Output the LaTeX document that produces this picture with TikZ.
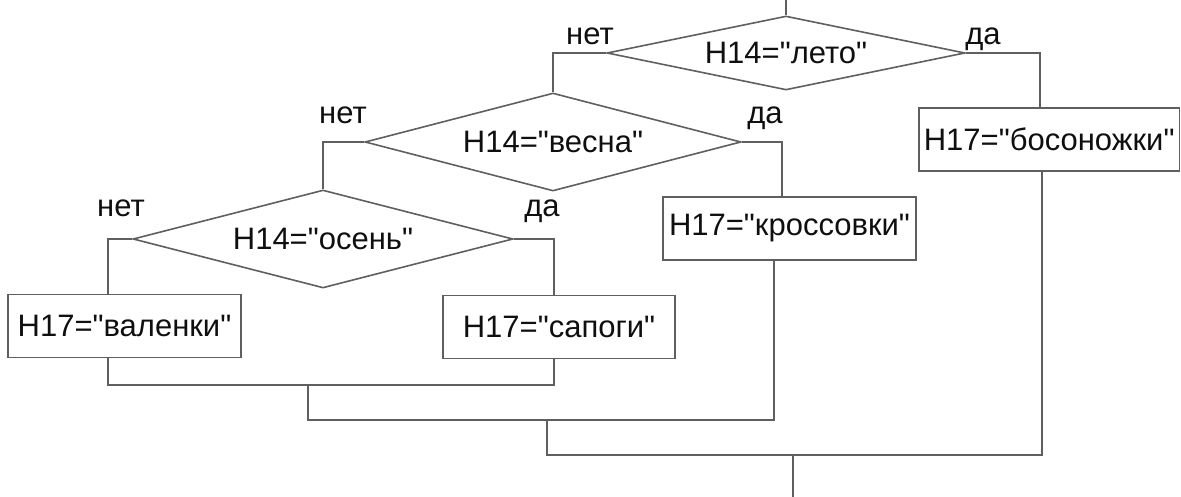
\documentclass[tikz,border=0pt]{standalone}
\usepackage{fontspec}
\setmainfont[Ligatures=TeXOff]{Liberation Sans}
\usetikzlibrary{shapes.geometric}
\definecolor{linec}{RGB}{95,95,95}
\definecolor{textc}{RGB}{15,15,15}
\begin{document}
\begin{tikzpicture}[x=1bp,y=-1bp,
  every node/.style={text=textc,font=\fontsize{31bp}{37bp}\selectfont},
  cond/.style={draw=linec,line width=1.6bp,diamond,inner sep=0pt},
  act/.style={draw=linec,line width=1.6bp,rectangle,inner ysep=0pt,inner xsep=5bp,minimum height=63bp},
  conn/.style={draw=linec,line width=1.6bp},
  lbl/.style={anchor=base}]
\useasboundingbox (0,0) rectangle (1181,497);
% decisions
\node[cond,shape aspect=4.84,minimum width=358bp,minimum height=74bp] (d1) at (786,53) {H14="лето"};
\node[cond,shape aspect=3.84,minimum width=376bp,minimum height=98bp] (d2) at (553,142) {H14="весна"};
\node[cond,shape aspect=3.88,minimum width=380bp,minimum height=98bp] (d3) at (323,239) {H14="осень"};
% actions
\node[act,minimum width=233bp] (b1) at (124.5,326) {H17="валенки"};
\node[act,minimum width=232bp] (b2) at (559,327) {H17="сапоги"};
\node[act,minimum width=253bp] (b3) at (789.5,228.5) {H17="кроссовки"};
\node[act,minimum width=255bp,anchor=west] (b4) at (918,139.5) {H17="босоножки"};
% labels
\node[lbl] (n1) at (590,45) {нет};
\node[lbl] (y1) at (983,45) {да};
\node[lbl] (n2) at (343,124) {нет};
\node[lbl] (y2) at (765,124) {да};
\node[lbl] (n3) at (121,217) {нет};
\node[lbl] (y3) at (542,217) {да};
% helper coordinates
\coordinate (startp) at (786,0);
\coordinate (endp) at (793,497);
\coordinate (r1) at (1040,0);
\coordinate (r1b) at (1042,0);
\coordinate (r2) at (782,0);
\coordinate (r2b) at (774,0);
\coordinate (l3) at (108,0);
\coordinate (r3) at (554,0);
\coordinate (m3) at (308,385);
\coordinate (m2) at (547,420);
\coordinate (m1) at (793,455);
% connectors
\draw[conn] (startp) -- (d1.north);
\draw[conn] (d1.west) -| (d2.north);
\draw[conn] (d1.east) -| (b4.north -| r1);
\draw[conn] (d2.west) -| (d3.north);
\draw[conn] (d2.east) -| (b3.north -| r2);
\draw[conn] (d3.west) -| (b1.north -| l3);
\draw[conn] (d3.east) -| (b2.north -| r3);
\draw[conn] (b1.south -| l3) |- (m3) -| (b2.south -| r3);
\draw[conn] (m3) |- (m2) -| (b3.south -| r2b);
\draw[conn] (m2) |- (m1) -| (b4.south -| r1b);
\draw[conn] (m1) -- (endp);
\end{tikzpicture}
\end{document}
